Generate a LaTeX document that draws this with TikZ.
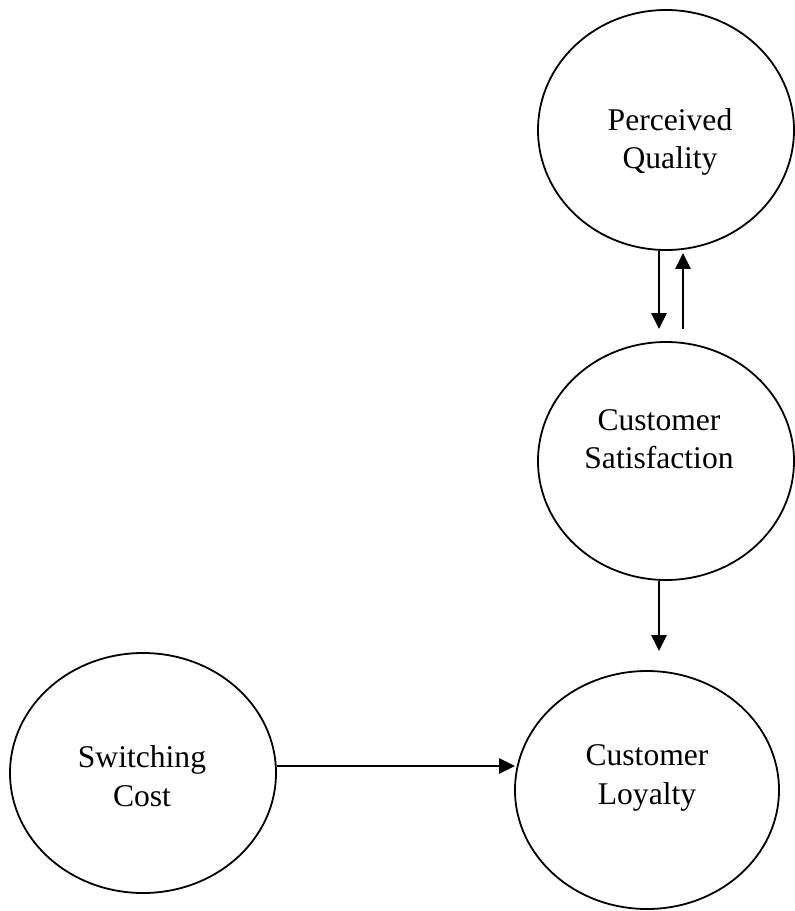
\documentclass[tikz,border=0pt]{standalone}
\usepackage{fontspec}
\setmainfont{Liberation Serif}
\usetikzlibrary{shapes.geometric,arrows.meta,calc}
\tikzset{
  ell/.style={draw=black, line width=1.8pt, ellipse, inner sep=0pt},
  lbl/.style={align=center, inner sep=0pt, font=\fontsize{31.6}{38.5}\selectfont},
  arr/.style={draw=black, line width=2.6pt, -{Triangle[length=16pt,width=15pt]}}
}
\begin{document}
\begin{tikzpicture}[x=1pt,y=-1pt]
\useasboundingbox (0,0) rectangle (795,911);
\node[ell, minimum width=256pt, minimum height=240pt] (pq) at (666,130) {};
\node[ell, minimum width=256pt, minimum height=238pt] (cs) at (666,461) {};
\node[ell, minimum width=264pt, minimum height=238pt] (cl) at (647,790) {};
\node[ell, minimum width=266pt, minimum height=240pt] (sc) at (143,773) {};
\node[lbl] (pqt) at ($(pq.center)+(4,12)$) {Perceived\\Quality};
\node[lbl] (cst) at ($(cs.center)+(-7,-22)$) {Customer\\Satisfaction};
\node[lbl] (clt) at ($(cl.center)+(0,-12)$) {Customer\\Loyalty};
\node[lbl] (sct) at ($(sc.center)+(-1,3)$) {Switching\\Cost};
\coordinate (a1s) at ($(pq.south)+(-7,0)$);
\coordinate (a1e) at ($(cs.north)+(-7,-12)$);
\coordinate (a2s) at ($(cs.north)+(17,-12)$);
\coordinate (a2e) at ($(pq.south)+(17,2)$);
\coordinate (a3s) at ($(cs.south)+(-7,0)$);
\coordinate (a3e) at ($(cl.north)+(12,-19)$);
\coordinate (a4s) at ($(sc.east)+(0,-7)$);
\coordinate (a4e) at ($(cl.west)+(1,-24)$);
\draw[arr] (a1s) -- (a1e);
\draw[arr] (a2s) -- (a2e);
\draw[arr] (a3s) -- (a3e);
\draw[arr] (a4s) -- (a4e);
\end{tikzpicture}
\end{document}
